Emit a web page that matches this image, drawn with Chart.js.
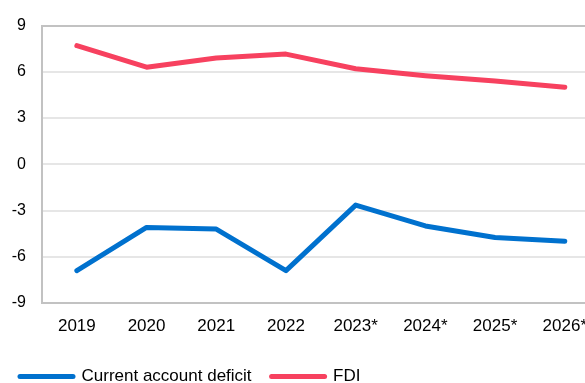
<!DOCTYPE html>
<html>
<head>
<meta charset="utf-8">
<script src="https://cdn.jsdelivr.net/npm/chart.js@4/dist/chart.umd.min.js"></script>
<style>
  html, body { margin: 0; padding: 0; overflow: hidden; background: #fff; }
  #wrap { width: 585px; height: 383px; overflow: hidden; }
  canvas { display: block; }
</style>
</head>
<body>
<div id="wrap"><canvas id="chart" width="600" height="395"></canvas></div>
<script>
// ── Data ─────────────────────────────────────────────────────────────────────

const years = ['2019', '2020', '2021', '2022', '2023*', '2024*', '2025*', '2026*'];
const currentAccountDeficit = [-6.9, -4.1, -4.2, -6.9, -2.65, -4.0, -4.75, -5.0];
const fdi = [7.7, 6.3, 6.9, 7.15, 6.2, 5.75, 5.4, 5.0];
const yTicks = [-9, -6, -3, 0, 3, 6, 9];

const BLUE = '#0071CE';
const RED = '#F7415F';
const AXIS_GREY = '#c2c2c2';
const GRID_GREY = '#e6e6e6';
const FONT = "'Liberation Sans', Arial, sans-serif";

Chart.defaults.font.family = FONT;
Chart.defaults.color = '#000';

// ── Chart ────────────────────────────────────────────────────────────────────

new Chart(document.getElementById('chart'), {
  type: 'line',
  data: {
    labels: years,
    datasets: [
      {
        label: 'Current account deficit',
        data: currentAccountDeficit,
        borderColor: BLUE,
        backgroundColor: BLUE,
        borderWidth: 5,
        borderCapStyle: 'round',
        borderJoinStyle: 'round',
        pointRadius: 0,
        tension: 0,
      },
      {
        label: 'FDI',
        data: fdi,
        borderColor: RED,
        backgroundColor: RED,
        borderWidth: 5,
        borderCapStyle: 'round',
        borderJoinStyle: 'round',
        pointRadius: 0,
        tension: 0,
      }
    ]
  },
  options: {
    responsive: false,
    animation: false,
    layout: { padding: { top: 23.5, left: 0, right: 0, bottom: 0 } },
    plugins: {
      tooltip: { enabled: false },
      legend: {
        position: 'bottom',
        align: 'start',
        labels: {
          usePointStyle: true,
          pointStyleWidth: 53,
          padding: 20,
          font: { size: 17 },
          color: '#000',
          generateLabels: chart => chart.data.datasets.map((ds, i) => ({
            text: ds.label,
            fillStyle: ds.borderColor,
            strokeStyle: ds.borderColor,
            lineWidth: 5,
            lineCap: 'round',
            pointStyle: 'line',
            hidden: false,
            datasetIndex: i,
          }))
        }
      }
    },
    scales: {
      x: {
        offset: true,
        grid: { display: false, drawTicks: false },
        border: { display: true, color: AXIS_GREY, width: 2 },
        ticks: { font: { size: 17 }, padding: 13, maxRotation: 0, autoSkip: false },
        afterFit: scale => { scale.height = 45; }
      },
      y: {
        min: -9,
        max: 9,
        afterBuildTicks: scale => { scale.ticks = yTicks.map(v => ({ value: v })); },
        grid: {
          drawTicks: false,
          lineWidth: 2,
          color: ctx => (ctx.tick && Math.abs(ctx.tick.value) === 9) ? AXIS_GREY : GRID_GREY
        },
        border: { display: true, color: AXIS_GREY, width: 2 },
        ticks: { font: { size: 16 }, padding: 16 },
        afterFit: scale => { scale.width = 42; }
      }
    }
  }
});
</script>
</body>
</html>
